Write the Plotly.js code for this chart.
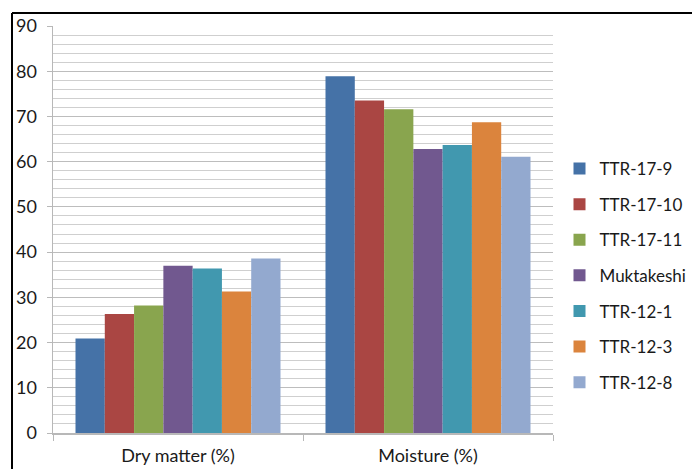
<!DOCTYPE html>
<html>
<head>
<meta charset="utf-8">
<script src="https://cdn.plot.ly/plotly-3.0.1.min.js"></script>
<style>
  html, body { margin: 0; padding: 0; background: #ffffff; }
  #chart { width: 692px; height: 469px; }
</style>
</head>
<body>
<div id="chart"></div>
<script>
// Composition of tuber varieties: dry matter and moisture content (%)
const categories = ['Dry matter (%)', 'Moisture (%)'];
const varieties = ['TTR-17-9', 'TTR-17-10', 'TTR-17-11', 'Muktakeshi', 'TTR-12-1', 'TTR-12-3', 'TTR-12-8'];
const ttr17_9 = [20.9, 78.9];
const ttr17_10 = [26.3, 73.5];
const ttr17_11 = [28.2, 71.6];
const muktakeshi = [37.0, 62.8];
const ttr12_1 = [36.4, 63.7];
const ttr12_3 = [31.3, 68.7];
const ttr12_8 = [38.6, 61.1];
const seriesValues = [ttr17_9, ttr17_10, ttr17_11, muktakeshi, ttr12_1, ttr12_3, ttr12_8];
const colors = ['#4572A7', '#AA4643', '#89A54E', '#71588F', '#4198AF', '#DB843D', '#93A9CF'];
const yTicks = [0, 10, 20, 30, 40, 50, 60, 70, 80, 90];

const fontFamily = 'Lato, "Open Sans", sans-serif';

const traces = varieties.map((name, i) => ({
  type: 'bar',
  name: name,
  x: categories,
  y: seriesValues[i],
  legendgroup: 'g' + i,
  marker: { color: colors[i], line: { width: 0 } },
  hoverinfo: 'name+y'
}));

// Frame drawn as a left/top border around the chart area
const frameLeft = -0.082;
const frameTop = 1.032;

const layout = {
  width: 692,
  height: 469,
  margin: { l: 53, r: 139, t: 26, b: 36, autoexpand: false },
  paper_bgcolor: '#ffffff',
  plot_bgcolor: '#ffffff',
  barmode: 'group',
  bargap: 0.18,
  bargroupgap: 0,
  font: { family: fontFamily, size: 16, color: '#1a1a1a' },
  xaxis: {
    type: 'category',
    showgrid: false,
    showline: true,
    linecolor: '#b8b8b8',
    linewidth: 1.5,
    ticks: 'outside',
    tickson: 'boundaries',
    ticklen: 6,
    tickcolor: '#b8b8b8',
    ticklabelstandoff: 6,
    tickfont: { family: fontFamily, size: 18, color: '#1a1a1a' },
    fixedrange: true
  },
  yaxis: {
    range: [0, 90],
    tickvals: yTicks,
    ticktext: yTicks.map(String),
    showgrid: true,
    gridcolor: '#bdbdbd',
    gridwidth: 1,
    minor: { dtick: 2, showgrid: true, gridcolor: '#cfcfcf', gridwidth: 1 },
    showline: true,
    linecolor: '#b8b8b8',
    linewidth: 1.5,
    ticks: 'outside',
    ticklen: 5,
    tickcolor: '#b8b8b8',
    ticklabelstandoff: 6,
    zeroline: false,
    tickfont: { family: fontFamily, size: 18, color: '#1a1a1a' },
    fixedrange: true
  },
  legend: {
    x: 1.013,
    xanchor: 'left',
    y: 0.387,
    yanchor: 'middle',
    tracegroupgap: 10.5,
    traceorder: 'grouped',
    font: { family: fontFamily, size: 17, color: '#1a1a1a' },
    bgcolor: 'rgba(0,0,0,0)'
  },
  shapes: [
    { type: 'line', xref: 'paper', yref: 'paper', x0: frameLeft, x1: 1.5, y0: frameTop, y1: frameTop,
      line: { color: '#000000', width: 2 } },
    { type: 'line', xref: 'paper', yref: 'paper', x0: frameLeft, x1: frameLeft, y0: frameTop, y1: -0.2,
      line: { color: '#000000', width: 2 } }
  ],
  showlegend: true
};

Plotly.newPlot('chart', traces, layout, { displayModeBar: false, staticPlot: true });
</script>
</body>
</html>
